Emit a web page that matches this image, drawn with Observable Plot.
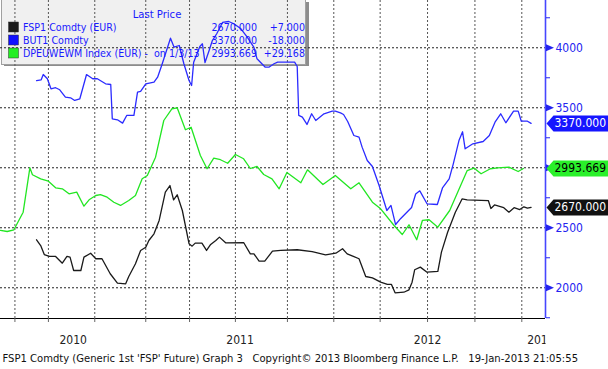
<!DOCTYPE html>
<html><head><meta charset="utf-8">
<script src="https://cdn.jsdelivr.net/npm/d3@7"></script>
<script src="https://cdn.jsdelivr.net/npm/@observablehq/plot@0.6"></script>
<style>
body{margin:0;background:#fff;}
svg text{white-space:pre;}
</style>
</head><body><div id="chart"></div>
<script>
// ---- data ----
const fspDates = ["2010-06-03","2010-06-11","2010-06-18","2010-06-28","2010-07-10","2010-07-23","2010-08-01","2010-08-07","2010-08-14","2010-08-28","2010-09-03","2010-09-16","2010-09-26","2010-10-08","2010-10-24","2010-11-07","2010-11-23","2010-11-29","2010-12-12","2010-12-22","2011-01-01","2011-01-07","2011-01-17","2011-01-27","2011-02-08","2011-02-17","2011-02-24","2011-03-03","2011-03-13","2011-03-26","2011-04-01","2011-04-07","2011-04-20","2011-04-29","2011-05-07","2011-05-17","2011-05-24","2011-06-05","2011-07-10","2011-07-23","2011-07-30","2011-08-09","2011-08-20","2011-09-04","2011-09-20","2011-10-22","2011-11-20","2011-12-16","2012-01-05","2012-01-18","2012-01-27","2012-02-08","2012-02-19","2012-03-03","2012-03-16","2012-04-01","2012-04-14","2012-04-22","2012-04-29","2012-05-16","2012-05-26","2012-06-01","2012-06-06","2012-06-17","2012-06-30","2012-07-21","2012-07-28","2012-08-09","2012-08-24","2012-09-06","2012-09-16","2012-10-27","2012-11-01","2012-11-08","2012-11-26","2012-12-06","2012-12-16","2012-12-27","2013-01-04","2013-01-11","2013-01-18"];
const fspValues = [2400,2352,2277,2261,2261,2205,2261,2255,2144,2144,2255,2288,2242,2242,2117,2038,2033,2094,2200,2311,2338,2394,2450,2561,2797,2852,2733,2775,2644,2367,2347,2372,2372,2311,2361,2394,2422,2375,2377,2283,2283,2222,2222,2305,2311,2317,2302,2275,2288,2325,2283,2261,2242,2094,2083,2047,2028,2028,1958,1963,1983,2047,2150,2172,2130,2136,2297,2463,2630,2740,2732,2727,2661,2690,2667,2630,2667,2652,2675,2663,2670];

const butDates = ["2010-06-03","2010-06-12","2010-06-16","2010-06-24","2010-07-01","2010-07-10","2010-07-18","2010-07-29","2010-08-08","2010-08-16","2010-08-26","2010-09-08","2010-09-20","2010-09-29","2010-10-15","2010-10-25","2010-10-28","2010-11-07","2010-11-17","2010-11-25","2010-12-09","2010-12-16","2010-12-22","2011-01-01","2011-01-17","2011-01-24","2011-02-02","2011-02-18","2011-02-25","2011-03-07","2011-03-16","2011-03-26","2011-03-31","2011-04-04","2011-04-16","2011-04-21","2011-04-26","2011-05-04","2011-05-10","2011-05-19","2011-05-30","2011-06-11","2011-06-21","2011-07-04","2011-07-17","2011-07-30","2011-08-05","2011-08-21","2011-08-28","2011-09-07","2011-09-14","2011-10-17","2011-10-22","2011-10-25","2011-11-01","2011-11-10","2011-11-19","2011-11-27","2011-12-13","2011-12-29","2012-01-04","2012-01-14","2012-01-20","2012-01-28","2012-02-09","2012-02-19","2012-02-25","2012-03-06","2012-03-16","2012-03-29","2012-04-04","2012-04-13","2012-04-21","2012-04-30","2012-05-10","2012-05-31","2012-06-08","2012-06-16","2012-06-30","2012-07-20","2012-07-30","2012-08-12","2012-08-20","2012-08-31","2012-09-07","2012-09-12","2012-09-27","2012-10-17","2012-10-29","2012-11-09","2012-11-20","2012-11-30","2012-12-15","2012-12-24","2012-12-30","2013-01-11","2013-01-18"];
const butValues = [3727,3733,3777,3742,3658,3667,3650,3588,3583,3561,3575,3777,3742,3742,3700,3694,3408,3400,3372,3436,3436,3630,3636,3700,3713,3755,3867,4080,4005,4019,3867,3727,3686,3880,4011,4033,3877,3977,4057,4119,4211,4219,4200,4161,4088,4003,3908,3838,3838,3867,3880,3880,3844,3436,3422,3361,3450,3394,3450,3472,3472,3457,3444,3386,3269,3255,3172,3061,3011,2852,2769,2644,2686,2527,2578,2669,2782,2808,2700,2694,2832,2908,3033,3227,3300,3158,3200,3219,3269,3380,3450,3375,3472,3472,3388,3388,3370];

const dpeDates = ["2010-03-25","2010-04-07","2010-04-20","2010-05-08","2010-05-21","2010-05-26","2010-06-11","2010-06-26","2010-07-10","2010-07-23","2010-08-05","2010-08-20","2010-09-03","2010-09-13","2010-09-26","2010-10-05","2010-10-18","2010-10-31","2010-11-13","2010-11-29","2010-12-12","2010-12-25","2011-01-04","2011-01-20","2011-02-05","2011-02-21","2011-03-03","2011-03-19","2011-03-30","2011-04-17","2011-04-30","2011-05-13","2011-05-26","2011-06-09","2011-06-24","2011-07-10","2011-07-23","2011-08-05","2011-08-18","2011-09-03","2011-09-17","2011-10-02","2011-10-29","2011-11-11","2011-12-11","2012-01-04","2012-02-03","2012-02-19","2012-03-16","2012-04-01","2012-04-27","2012-05-13","2012-05-26","2012-06-10","2012-06-21","2012-07-04","2012-07-21","2012-08-13","2012-09-16","2012-09-29","2012-10-13","2012-10-31","2012-11-14","2012-12-06","2012-12-24","2013-01-03"];
const dpeValues = [2478,2469,2483,2630,3000,2942,2908,2888,2833,2825,2783,2797,2680,2733,2769,2777,2755,2713,2686,2727,2769,2908,2936,3088,3394,3492,3500,3317,3338,3102,2992,3080,3067,3038,3111,3075,2994,3011,2944,2908,2825,2961,2875,2983,2861,2936,2825,2875,2713,2658,2519,2444,2525,2400,2561,2567,2505,2644,2977,2998,2950,2992,3000,3005,2969,2993.669];

const legendNames = ["FSP1 Comdty (EUR)", "BUT1 Comdty", "DPEUWEWM Index (EUR) -  on 1/3/13"];
const legendLast = ["2670.000", "3370.000", "2993.669"];
const legendChange = ["+7.000", "-18.000", "+29.168"];
const lastValues = [2670, 3370, 2993.669];

const xTickDates = ["2010-04-22","2010-06-26","2010-09-24","2011-01-01","2011-03-27","2011-06-24","2011-10-03","2012-01-01","2012-03-31","2012-07-01","2012-10-01","2012-12-31"];
const yearLabels = ["2010","2011","2012","2013"];
const yearLabelDates = ["2010-08-13","2011-07-03","2012-07-01","2013-02-06"];
const yMajor = [2000, 2500, 3000, 3500, 4000];
const yLabelTicks = [2000, 2500, 3500, 4000]; // 3000 is hidden behind the green price tag
const yMinor = [1750, 2250, 2750, 3250, 3750, 4250];
const footerText = "FSP1 Comdty (Generic 1st 'FSP' Future) Graph 3   Copyright\u00a9 2013 Bloomberg Finance L.P.   19-Jan-2013 21:05:55";

// ---- styling ----
const FONT = "'DejaVu Sans Condensed', 'DejaVu Sans', sans-serif";
const BLUE = "#2323f0";
const LEG_BLUE = "#1a1aff";
const LINE_BLUE = "#2b2bff";
const GREEN = "#22e622";
const BLACK = "#1a1a1a";
const seriesColors = [BLACK, "#1010ff", "#22ee22"];
const tagFills = ["#111111", "#1515ff", "#2af02a"];
const tagText = ["#ffffff", "#ffffff", "#000000"];

const parse = d3.utcParse("%Y-%m-%d");
const toSeries = (ds, vs) => ds.map((d, i) => ({date: parse(d), value: vs[i]}));
const fsp = toSeries(fspDates, fspValues);
const but = toSeries(butDates, butValues);
const dpe = toSeries(dpeDates, dpeValues);

const xDomain = [parse("2010-03-25"), parse("2013-02-15")];
const yDomain = [1744, 4394];

const tagSymbol = {draw(ctx) { ctx.moveTo(0, 0); ctx.lineTo(7, -8); ctx.lineTo(62, -8); ctx.lineTo(62, 8); ctx.lineTo(7, 8); ctx.closePath(); }};
const triSymbol = {draw(ctx) { ctx.moveTo(0, -3.5); ctx.lineTo(8, 0); ctx.lineTo(0, 3.5); ctx.closePath(); }};

function legendBox() {
  const g = d3.create("svg:g");
  g.append("rect").attr("x", 4).attr("y", 2).attr("width", 305).attr("height", 64).attr("fill", "#8c8c8c");
  g.append("rect").attr("x", 1.5).attr("y", -1).attr("width", 304).attr("height", 65.5).attr("fill", "#f0f0f0").attr("stroke", "#a0a0a0");
  return g.node();
}
function legendText() {
  const g = d3.create("svg:g").attr("font-family", FONT).attr("font-size", 10.6).attr("fill", LEG_BLUE).attr("text-anchor", "start");
  g.append("text").attr("x", 157).attr("y", 14).attr("dy", "0.35em").attr("text-anchor", "middle").attr("font-size", 11.2).text("Last Price");
  legendNames.forEach((name, i) => {
    const cy = 27 + i * 13;
    g.append("rect").attr("x", 8.5).attr("y", cy - 5).attr("width", 10).attr("height", 10).attr("fill", seriesColors[i]).attr("stroke", "#333").attr("stroke-width", 0.5);
    g.append("text").attr("x", 23).attr("y", cy).attr("dy", "0.35em").attr("text-anchor", "start").text(name);
    g.append("text").attr("x", 257).attr("y", cy).attr("dy", "0.35em").attr("text-anchor", "end").text(legendLast[i]);
    g.append("text").attr("x", 305).attr("y", cy).attr("dy", "0.35em").attr("text-anchor", "end").text(legendChange[i]);
  });
  return g.node();
}

const tagMarks = [];
lastValues.forEach((v, i) => {
  tagMarks.push(Plot.dot([v], {y: d => d, frameAnchor: "right", dx: 1, symbol: tagSymbol, fill: tagFills[i], stroke: "none"}));
  tagMarks.push(Plot.text([v], {y: d => d, text: () => legendLast[i], frameAnchor: "right", dx: 9, textAnchor: "start", fill: tagText[i], fontSize: 12, fontFamily: FONT}));
});

const chart = Plot.plot({
  width: 608,
  height: 369,
  marginLeft: 0,
  marginRight: 63,
  marginTop: 0,
  marginBottom: 51,
  style: {background: "white", fontFamily: FONT},
  x: {type: "utc", domain: xDomain, axis: null},
  y: {domain: yDomain, axis: null},
  marks: [
    legendBox,
    Plot.ruleY(yMajor, {stroke: "#222", strokeDasharray: "2,2"}),
    Plot.ruleX(xTickDates.map(parse), {stroke: "#555", strokeDasharray: "2,2"}),
    Plot.ruleY([yDomain[0]], {stroke: "#000"}),
    Plot.axisX({ticks: xTickDates.map(parse), tickSize: 4, tickFormat: () => "", stroke: "#666", label: null}),
    Plot.text(yearLabels, {x: (d, i) => parse(yearLabelDates[i]), text: d => d, frameAnchor: "bottom", dy: 25, fontSize: 12, fill: "#222", fontFamily: FONT}),
    Plot.text([footerText], {text: d => d, frameAnchor: "bottom-left", dx: 2, dy: 43, textAnchor: "start", fontSize: 11.15, fill: "#111", fontFamily: FONT}),
    Plot.line(dpe, {x: "date", y: "value", stroke: GREEN, strokeWidth: 1.3}),
    Plot.line(fsp, {x: "date", y: "value", stroke: BLACK, strokeWidth: 1.3}),
    Plot.line(but, {x: "date", y: "value", stroke: LINE_BLUE, strokeWidth: 1.3}),
    legendText,
    Plot.ruleX([xDomain[1]], {stroke: "#4646ff", strokeWidth: 1.6}),
    Plot.axisY({anchor: "right", ticks: yMinor, tickSize: 4, tickFormat: () => "", stroke: BLUE, label: null}),
    Plot.axisY({anchor: "right", ticks: yLabelTicks, tickSize: 0, tickPadding: 10, tickFormat: d => String(d), fill: BLUE, fontSize: 12, label: null, fontFamily: FONT}),
    Plot.dot(yMajor, {y: d => d, frameAnchor: "right", dx: 0.5, symbol: triSymbol, fill: BLUE, stroke: "none"}),
    ...tagMarks
  ]
});

// clip the partially visible "2013" year label at the right axis (wrap in a group so the clip is in plot space)
const svgNode = chart.tagName.toLowerCase() === "svg" ? chart : chart.querySelector("svg");
const svg = d3.select(svgNode);
svg.append("defs").append("clipPath").attr("id", "yearclip").attr("clipPathUnits", "userSpaceOnUse")
  .append("rect").attr("x", -10).attr("y", 0).attr("width", 555).attr("height", 369);
svg.selectAll("text").filter(function() { return this.textContent === "2013"; }).each(function() {
  const wrap = document.createElementNS("http://www.w3.org/2000/svg", "g");
  wrap.setAttribute("clip-path", "url(#yearclip)");
  this.parentNode.insertBefore(wrap, this);
  wrap.appendChild(this);
});

document.getElementById("chart").appendChild(chart);
</script>
</body></html>
